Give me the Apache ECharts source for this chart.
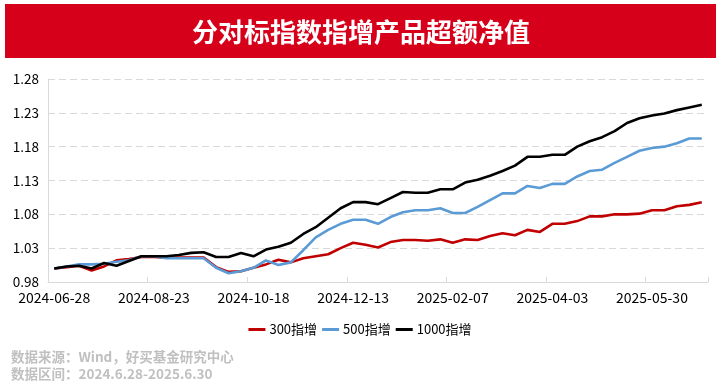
<!DOCTYPE html>
<html>
<head>
<meta charset="utf-8">
<script src="https://cdn.jsdelivr.net/npm/echarts@6/dist/echarts.min.js"></script>
<style>
html,body{margin:0;padding:0;background:#fff;}
#c{width:720px;height:384px;}
</style>
</head>
<body>
<div id="c"></div>
<script>
const titleText = '分对标指数指增产品超额净值';
const sourceLine1 = '数据来源：Wind，好买基金研究中心';
const sourceLine2 = '数据区间：2024.6.28-2025.6.30';
const seriesNames = ['300指增', '500指增', '1000指增'];

const dates = [
  '2024-06-28','2024-07-05','2024-07-12','2024-07-19','2024-07-26','2024-08-02','2024-08-09','2024-08-16',
  '2024-08-23','2024-08-30','2024-09-06','2024-09-13','2024-09-20','2024-09-27','2024-09-30','2024-10-11',
  '2024-10-18','2024-10-25','2024-11-01','2024-11-08','2024-11-15','2024-11-22','2024-11-29','2024-12-06',
  '2024-12-13','2024-12-20','2024-12-27','2025-01-03','2025-01-10','2025-01-17','2025-01-24','2025-01-27',
  '2025-02-07','2025-02-14','2025-02-21','2025-02-28','2025-03-07','2025-03-14','2025-03-21','2025-03-28',
  '2025-04-03','2025-04-11','2025-04-18','2025-04-25','2025-04-30','2025-05-09','2025-05-16','2025-05-23',
  '2025-05-30','2025-06-06','2025-06-13','2025-06-20','2025-06-27'
];

const idx300 = [
  1.000,1.002,1.004,0.997,1.003,1.012,1.014,1.017,
  1.017,1.016,1.016,1.016,1.016,1.002,0.995,0.996,
  1.001,1.006,1.013,1.009,1.015,1.018,1.021,1.030,
  1.038,1.035,1.031,1.039,1.042,1.042,1.041,1.043,
  1.038,1.043,1.042,1.048,1.052,1.049,1.057,1.054,
  1.066,1.066,1.070,1.077,1.077,1.080,1.080,1.081,
  1.086,1.086,1.092,1.094,1.098
];
const idx500 = [
  1.000,1.003,1.006,1.006,1.007,1.010,1.012,1.018,
  1.018,1.015,1.015,1.015,1.015,1.001,0.993,0.996,
  1.001,1.012,1.005,1.009,1.027,1.046,1.057,1.066,
  1.072,1.072,1.066,1.076,1.083,1.086,1.086,1.089,
  1.082,1.082,1.091,1.101,1.111,1.111,1.122,1.119,
  1.125,1.125,1.136,1.144,1.146,1.156,1.165,1.174,
  1.178,1.180,1.185,1.192,1.192
];
const idx1000 = [
  1.000,1.003,1.004,1.000,1.008,1.004,1.011,1.018,
  1.018,1.018,1.020,1.023,1.024,1.017,1.017,1.023,
  1.018,1.028,1.032,1.038,1.051,1.061,1.075,1.089,
  1.098,1.098,1.095,1.104,1.113,1.112,1.112,1.117,
  1.117,1.127,1.131,1.137,1.144,1.152,1.165,1.165,
  1.168,1.168,1.180,1.188,1.194,1.203,1.215,1.222,
  1.226,1.229,1.234,1.238,1.242
];

const yTickMin = 0.98;
const yTickMax = 1.28;
const yTickStep = 0.05;

const colors = ['#c00000', '#5b9bd5', '#000000'];
const FONT = '"Noto Sans CJK SC", "Noto Sans", sans-serif';

const shift = arr => arr.map(v => +(v - yTickMin).toFixed(4));
const allSeries = [idx300, idx500, idx1000];

const chart = echarts.init(document.getElementById('c'), null, {renderer: 'canvas'});
chart.setOption({
  animation: false,
  backgroundColor: '#ffffff',
  textStyle: {fontFamily: FONT},
  graphic: [
    {type: 'rect', shape: {x: 5, y: 4, width: 711, height: 54}, style: {fill: '#d7001b'}, silent: true},
    {type: 'text', x: 361, y: 32, style: {text: titleText, fill: '#ffffff', font: 'bold 26px ' + FONT, textAlign: 'center', textVerticalAlign: 'middle'}},
    {type: 'text', x: 11, y: 357, style: {text: sourceLine1, fill: '#c0c0c0', font: 'bold 13.5px ' + FONT, textAlign: 'left', textVerticalAlign: 'middle'}},
    {type: 'text', x: 11, y: 374, style: {text: sourceLine2, fill: '#c0c0c0', font: 'bold 13.5px ' + FONT, textAlign: 'left', textVerticalAlign: 'middle'}}
  ],
  legend: {
    data: seriesNames,
    left: 'center',
    top: 318,
    icon: 'rect',
    itemWidth: 17,
    itemHeight: 3,
    itemGap: 5,
    textStyle: {fontSize: 13, color: '#000', fontFamily: FONT, padding: [0, 0, 0, -1]}
  },
  grid: {left: 48, right: 12, top: 79, bottom: 102, containLabel: false},
  xAxis: {
    type: 'category',
    data: dates,
    boundaryGap: true,
    axisLine: {lineStyle: {color: '#d9d9d9', width: 1}},
    axisTick: {show: true, inside: true, length: 5, interval: 7, lineStyle: {color: '#d9d9d9'}},
    axisLabel: {interval: 7, margin: 9, fontSize: 14, color: '#000', fontFamily: FONT},
    splitLine: {show: false}
  },
  yAxis: {
    type: 'value',
    min: 0,
    max: +(yTickMax - yTickMin).toFixed(2),
    interval: yTickStep,
    axisLine: {show: true, lineStyle: {color: '#d9d9d9', width: 1}},
    axisTick: {show: false},
    axisLabel: {margin: 9, fontSize: 13.5, color: '#000', fontFamily: FONT,
      formatter: v => (v + yTickMin).toFixed(2)},
    splitLine: {show: true, lineStyle: {color: '#d9d9d9', type: [7, 4], width: 1}}
  },
  series: seriesNames.map((name, i) => ({
    name: name,
    type: 'line',
    data: shift(allSeries[i]),
    showSymbol: false,
    symbol: 'none',
    lineStyle: {color: colors[i], width: 2.6},
    itemStyle: {color: colors[i]},
    emphasis: {disabled: true}
  }))
});
</script>
</body>
</html>
